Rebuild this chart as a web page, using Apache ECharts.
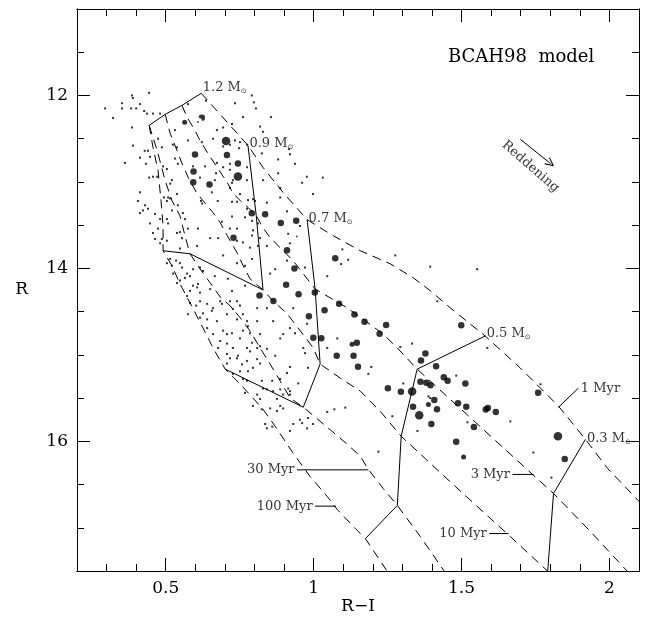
<!DOCTYPE html>
<html>
<head>
<meta charset="utf-8">
<script src="https://cdn.jsdelivr.net/npm/echarts@6/dist/echarts.min.js"></script>
<style>
  html, body { margin: 0; padding: 0; background: #fff; }
  #chart { width: 651px; height: 624px; }
</style>
</head>
<body>
<div id="chart"></div>
<script>
// Axis ranges and ticks (R-I colour vs. R magnitude, magnitudes increase downward)
const X_MIN = 0.2, X_MAX = 2.1;
const Y_MIN = 11, Y_MAX = 17.5;
const X_MAJOR = [0.5, 1, 1.5, 2];
const Y_MAJOR = [12, 14, 16];

// BCAH98 isochrones, [R-I, R]
const ISO_1MYR = [[0.620,11.975],[0.778,12.578],[0.829,12.833],[0.897,13.123],[0.978,13.436],[1.066,13.622],[1.158,13.796],[1.259,13.947],[1.337,14.109],[1.395,14.260],[1.462,14.457],[1.580,14.782],[1.699,15.153],[1.828,15.594],[1.919,15.977],[1.994,16.314],[2.110,16.730]];
const ISO_3MYR = [[0.555,12.114],[0.572,12.253],[0.593,12.369],[0.616,12.520],[0.643,12.671],[0.674,12.833],[0.708,13.007],[0.728,13.135],[0.752,13.216],[0.779,13.297],[0.806,13.390],[0.829,13.529],[0.853,13.645],[0.887,13.761],[0.931,13.912],[0.965,14.063],[1.005,14.237],[1.056,14.341],[1.114,14.457],[1.175,14.608],[1.235,14.759],[1.283,14.921],[1.350,15.165],[1.547,15.780],[1.740,16.383],[1.811,16.603],[1.936,17.044],[2.065,17.520]];
const ISO_10MYR = [[0.498,12.218],[0.515,12.439],[0.538,12.636],[0.555,12.787],[0.576,12.949],[0.606,13.135],[0.640,13.274],[0.660,13.355],[0.684,13.471],[0.708,13.622],[0.741,13.819],[0.762,13.970],[0.785,14.121],[0.829,14.249],[0.863,14.376],[0.911,14.527],[0.955,14.724],[0.999,14.921],[1.022,15.107],[1.090,15.269],[1.158,15.420],[1.225,15.652],[1.296,15.942],[1.479,16.522],[1.665,17.102],[1.797,17.520]];
const ISO_30MYR = [[0.444,12.346],[0.471,12.636],[0.498,12.984],[0.521,13.216],[0.548,13.390],[0.565,13.622],[0.582,13.831],[0.616,14.005],[0.650,14.167],[0.684,14.330],[0.718,14.434],[0.752,14.573],[0.785,14.724],[0.819,14.921],[0.853,15.107],[0.887,15.304],[0.921,15.501],[0.965,15.606],[1.022,15.768],[1.114,16.035],[1.158,16.174],[1.185,16.325],[1.235,16.545],[1.283,16.742],[1.361,17.102],[1.445,17.520]];
const ISO_100MYR = [[0.444,12.346],[0.457,12.601],[0.474,12.868],[0.484,13.216],[0.491,13.506],[0.491,13.796],[0.521,13.970],[0.548,14.179],[0.582,14.399],[0.626,14.689],[0.660,14.921],[0.701,15.165],[0.752,15.339],[0.826,15.617],[0.870,15.826],[0.931,16.139],[0.988,16.406],[1.046,16.638],[1.080,16.789],[1.141,17.009],[1.175,17.125],[1.252,17.520]];

// Evolutionary tracks through the isochrone points
const TRACK_1_2 = [[0.620,11.975],[0.555,12.114],[0.498,12.218],[0.444,12.346]];
const TRACK_0_9 = [[0.778,12.578],[0.806,13.390],[0.829,14.249],[0.582,13.831],[0.491,13.796]];
const TRACK_0_7 = [[0.978,13.436],[1.005,14.237],[1.022,15.107],[0.965,15.606],[0.701,15.165]];
const TRACK_0_5 = [[1.580,14.782],[1.350,15.165],[1.296,15.942],[1.283,16.742],[1.175,17.125]];
const TRACK_0_3 = [[1.919,15.977],[1.811,16.603],[1.791,17.520]];

const MASS_NAMES = ['1.2', '0.9', '0.7', '0.5', '0.3'];
const MASS_ANCHORS = [[0.620,11.975],[0.778,12.578],[0.978,13.436],[1.580,14.782],[1.919,15.977]];

const AGE_NAMES = ['1 Myr', '3 Myr', '10 Myr', '30 Myr', '100 Myr'];
const AGE_LEADERS = [
  [[1.895,15.385],[1.828,15.606]],
  [[1.672,16.383],[1.743,16.383]],
  [[1.594,17.067],[1.659,17.067]],
  [[0.944,16.330],[1.185,16.330]],
  [[1.005,16.750],[1.075,16.750]]
];

// Reddening vector
const REDDENING = [[1.699,12.508],[1.801,12.787]];
const REDDENING_TEXT_AT = [1.733,12.822];

// Field stars
const FIELD_STARS = [
[0.444,11.97],[0.386,12.00],[0.389,12.03],[0.352,12.09],[0.352,12.15],[0.295,12.15],[0.383,12.15],[0.400,12.15],[0.427,12.18],[0.457,12.21],[0.481,12.21],[0.437,12.21],[0.322,12.26],[0.386,12.37],[0.413,12.10],[0.575,12.10],[0.636,12.06],[0.734,12.09],[0.791,12.00],[0.798,12.08],[0.805,12.15],[0.761,12.25],[0.856,12.25],[0.819,12.36],[0.829,12.42],[0.694,12.37],[0.724,12.33],[0.660,12.50],[0.694,12.59],[0.734,12.52],[0.751,12.54],[0.775,12.57],[0.673,12.40],[0.531,12.40],[0.575,12.52],[0.622,12.54],[0.717,12.57],[0.748,12.61],[0.389,12.58],[0.429,12.64],[0.440,12.64],[0.413,12.72],[0.433,12.79],[0.362,12.78],[0.474,12.50],[0.524,12.57],[0.538,12.60],[0.487,12.60],[0.447,12.71],[0.531,12.73],[0.491,12.82],[0.504,12.85],[0.541,12.79],[0.592,12.82],[0.633,12.82],[0.673,12.78],[0.670,12.90],[0.694,12.83],[0.717,12.86],[0.727,12.98],[0.717,13.07],[0.775,12.98],[0.795,13.20],[0.778,13.21],[0.829,12.98],[0.880,12.74],[0.880,12.90],[0.920,12.68],[0.937,12.79],[0.961,13.01],[0.977,12.94],[1.031,12.95],[0.998,13.14],[0.825,12.67],[0.917,12.62],[0.521,12.98],[0.515,13.02],[0.457,12.94],[0.444,12.95],[0.471,12.94],[0.538,13.14],[0.494,13.18],[0.508,13.18],[0.656,13.12],[0.751,13.14],[0.616,12.95],[0.666,12.98],[0.724,13.01],[0.717,12.79],[0.775,12.83],[0.413,13.12],[0.619,13.22],[0.676,13.22],[0.724,13.23],[0.741,13.23],[0.802,13.22],[0.887,13.07],[0.842,13.24],[0.887,13.18],[0.910,13.34],
[0.406,13.22],[0.423,13.33],[0.440,13.31],[0.413,13.36],[0.464,13.37],[0.504,13.22],[0.515,13.19],[0.541,13.27],[0.558,13.36],[0.504,13.43],[0.508,13.48],[0.481,13.43],[0.457,13.59],[0.474,13.54],[0.487,13.66],[0.504,13.68],[0.447,13.48],[0.538,13.59],[0.565,13.43],[0.575,13.54],[0.609,13.54],[0.623,13.25],[0.690,13.46],[0.724,13.40],[0.650,13.65],[0.677,13.65],[0.717,13.54],[0.741,13.54],[0.768,13.41],[0.775,13.31],[0.792,13.62],[0.761,13.70],[0.741,13.68],[0.606,13.74],[0.694,13.85],[0.741,13.94],[0.768,13.97],[0.792,13.89],[0.785,13.76],[0.548,13.77],[0.515,13.89],[0.504,13.94],[0.548,13.94],[0.521,13.97],[0.555,13.99],[0.592,14.01],[0.616,13.99],[0.626,14.03],[0.565,14.11],[0.582,14.09],[0.538,14.17],[0.592,14.20],[0.609,14.18],[0.666,14.09],[0.710,14.12],[0.724,14.26],[0.768,14.20],[0.650,14.24],[0.572,14.32],[0.616,14.28],[0.548,13.58],[0.555,13.65],[0.521,13.33],[0.430,13.27],[0.464,13.66],[0.481,13.71],[0.792,13.45],[0.812,13.48],[0.795,13.56],[0.819,13.65],[0.812,13.74],[0.842,13.74],[0.920,13.71],[0.954,13.51],[0.914,13.60],[0.971,13.99],[0.870,14.01],[0.853,14.06],[1.046,14.09],[1.097,13.78],[1.117,13.90],[1.093,13.95],[0.910,13.91],[1.276,13.85],[1.394,13.98],[1.553,14.01],[0.535,13.91],[0.525,14.06],[0.572,14.06],[0.548,14.14],[0.606,14.22],[0.582,14.26],
[0.616,14.38],[0.640,14.41],[0.660,14.46],[0.684,14.38],[0.717,14.38],[0.727,14.47],[0.673,14.61],[0.616,14.57],[0.640,14.69],[0.660,14.76],[0.707,14.76],[0.684,14.84],[0.751,14.81],[0.727,14.92],[0.775,14.92],[0.707,14.99],[0.741,15.04],[0.775,15.07],[0.795,15.15],[0.809,14.92],[0.819,14.76],[0.809,14.61],[0.775,14.61],[0.761,14.53],[0.863,14.61],[0.842,14.46],[0.887,14.81],[0.920,14.69],[0.931,14.46],[0.965,14.92],[0.978,14.64],[0.829,15.39],[0.863,15.42],[0.920,15.46],[0.775,15.30],[0.727,15.22],[0.809,15.46],[0.656,14.49],[0.690,14.41],[0.751,14.43],[0.640,14.59],[0.707,14.53],[0.741,14.59],[0.694,14.72],[0.724,14.75],[0.761,14.72],[0.785,14.75],[0.778,14.67],[0.707,14.87],[0.677,14.92],[0.744,15.01],[0.717,15.04],[0.792,14.86],[0.819,14.90],[0.785,14.96],[0.809,15.05],[0.842,14.93],[0.870,15.01],[0.707,15.10],[0.758,15.11],[0.819,15.10],[0.751,15.19],[0.778,15.19],[0.761,15.28],[0.825,15.30],[0.860,15.30],[0.887,15.28],[0.910,15.21],[0.920,15.14],[0.887,15.40],[0.948,15.33],[0.897,14.76],[0.937,14.75],[0.971,14.98],[0.981,15.15],[1.080,14.81],[1.046,14.92],[0.582,14.40],[0.603,14.43],[0.575,14.53],[0.626,14.52],[0.741,14.38],[0.809,14.46],
[0.768,15.44],[0.819,15.51],[0.795,15.59],[0.825,15.63],[0.853,15.62],[0.876,15.51],[0.887,15.59],[0.920,15.42],[0.836,15.80],[0.842,15.85],[0.860,15.83],[0.920,15.88],[0.954,15.75],[0.961,15.79],[0.981,15.73],[0.978,15.85],[0.998,15.80],[1.046,15.66],[1.070,15.63],[1.107,15.61],[0.876,15.65],[0.897,15.46],[0.914,15.39],[0.842,15.40],[0.897,15.62],[0.931,15.80],
[1.418,14.38],[1.293,14.91],[1.333,14.87],[1.587,14.92],[1.195,15.14],[1.185,15.22],[1.303,15.33],[1.482,15.24],[1.388,15.48],[1.266,15.71],[1.351,15.88],[1.520,15.78],[1.767,15.34],[1.665,15.77],[1.743,16.13],[1.804,16.42],[1.219,16.12],[1.394,15.50]
];

// Cluster candidates
const MEMBERS = [
[0.622,12.259],[0.599,12.682],[0.707,12.688],[0.744,12.787],[0.594,12.879],[0.593,13.004],[0.648,13.030],[0.791,13.361],[0.836,13.375],[0.889,13.475],[0.941,13.448],[0.729,13.645],[0.910,13.790],[0.935,14.002],[0.907,14.190],[0.949,14.298],[1.004,14.280],[0.817,14.314],[0.864,14.376],[1.073,13.883],[1.086,14.408],[1.037,14.484],[0.984,14.553],[1.138,14.533],[0.999,14.802],[1.026,14.809],[1.146,14.861],[1.078,15.010],[1.135,15.010],[1.150,15.138],[1.172,14.616],[1.245,14.654],[1.223,14.755],[1.499,14.658],[1.378,14.983],[1.363,15.066],[1.414,15.133],[1.440,15.258],[1.453,15.300],[1.513,15.331],[1.361,15.312],[1.381,15.324],[1.395,15.353],[1.251,15.387],[1.295,15.426],[1.336,15.600],[1.408,15.521],[1.417,15.629],[1.488,15.559],[1.516,15.600],[1.582,15.632],[1.589,15.614],[1.616,15.661],[1.398,15.799],[1.542,15.834],[1.482,16.004],[1.759,15.437],[1.849,16.205]
];
const STRONG_MEMBERS = [[0.704,12.526],[0.744,12.937],[1.333,15.423],[1.357,15.698],[1.826,15.942]];
const WEAK_MEMBERS = [[0.564,12.311],[1.130,14.878],[1.388,15.574],[1.507,16.182]];
const SPECIAL_STARS = [[0.609,12.307],[0.943,13.630]];

const FONT = 'DejaVu Serif';
const INK = '#000';

function xAxisDef(position, major) {
  return {
    type: 'value', position, min: X_MIN, max: X_MAX,
    interval: major ? undefined : 0.1,
    axisLine: { show: true, onZero: false, lineStyle: { color: INK, width: 1 } },
    axisTick: major
      ? { show: true, inside: true, length: 13, customValues: X_MAJOR, lineStyle: { color: INK, width: 1 } }
      : { show: true, inside: true, length: 7, lineStyle: { color: INK, width: 1 } },
    axisLabel: (major && position === 'bottom')
      ? { show: true, customValues: X_MAJOR, color: INK, fontFamily: FONT, fontSize: 17, margin: 9 }
      : { show: false },
    splitLine: { show: false },
    name: (major && position === 'bottom') ? 'R\u2212I' : '',
    nameLocation: 'middle', nameGap: 27, nameMoveOverlap: false,
    nameTextStyle: { color: INK, fontFamily: FONT, fontSize: 17 }
  };
}
function yAxisDef(position, major) {
  return {
    type: 'value', position, min: Y_MIN, max: Y_MAX, inverse: true,
    interval: major ? undefined : 0.5,
    axisLine: { show: true, onZero: false, lineStyle: { color: INK, width: 1 } },
    axisTick: major
      ? { show: true, inside: true, length: 13, customValues: Y_MAJOR, lineStyle: { color: INK, width: 1 } }
      : { show: true, inside: true, length: 7, lineStyle: { color: INK, width: 1 } },
    axisLabel: (major && position === 'left')
      ? { show: true, customValues: Y_MAJOR, color: INK, fontFamily: FONT, fontSize: 17, margin: 9 }
      : { show: false },
    splitLine: { show: false },
    name: (major && position === 'left') ? 'R' : '',
    nameLocation: 'middle', nameGap: 49, nameRotate: 0, nameMoveOverlap: false,
    nameTextStyle: { color: INK, fontFamily: FONT, fontSize: 17 }
  };
}

function isochrone(data) {
  return { type: 'line', data, symbol: 'none', silent: true, z: 2,
    lineStyle: { color: INK, width: 1, type: [9, 6] } };
}
function solid(data) {
  return { type: 'line', data, symbol: 'none', silent: true, z: 3,
    lineStyle: { color: INK, width: 1 } };
}

const series = [];
[ISO_1MYR, ISO_3MYR, ISO_10MYR, ISO_30MYR, ISO_100MYR].forEach(d => series.push(isochrone(d)));
[TRACK_1_2, TRACK_0_9, TRACK_0_7, TRACK_0_5, TRACK_0_3].forEach(d => series.push(solid(d)));
AGE_LEADERS.forEach(d => series.push(solid(d)));

series.push({ type: 'scatter', data: FIELD_STARS, symbol: 'rect', symbolSize: 2, z: 4, silent: true,
  itemStyle: { color: INK } });
series.push({ type: 'scatter', data: MEMBERS, symbol: 'circle', symbolSize: 6.5, z: 5, silent: true,
  itemStyle: { color: INK } });
series.push({ type: 'scatter', data: STRONG_MEMBERS, symbol: 'circle', symbolSize: 8.5, z: 5, silent: true,
  itemStyle: { color: INK } });
series.push({ type: 'scatter', data: WEAK_MEMBERS, symbol: 'circle', symbolSize: 5, z: 5, silent: true,
  itemStyle: { color: INK } });
series.push({ type: 'scatter', data: SPECIAL_STARS, symbol: 'emptyCircle', symbolSize: 7, z: 5, silent: true,
  itemStyle: { color: '#fff', borderColor: INK, borderWidth: 0.9 } });
series.push({ type: 'scatter', data: SPECIAL_STARS, symbol: 'circle', symbolSize: 1.8, z: 6, silent: true,
  itemStyle: { color: INK } });

// Mass labels at the 1 Myr end of each track
const massOffsets = [[0, -6], [0, -2], [0, -1], [0, -2], [0, -1]];
series.push({
  type: 'scatter', symbolSize: 1, z: 7, silent: true, itemStyle: { color: 'rgba(0,0,0,0)' },
  data: MASS_ANCHORS.map((v, i) => ({ value: v, name: MASS_NAMES[i], label: { offset: massOffsets[i] } })),
  label: {
    show: true, position: 'right', distance: 1,
    formatter: p => '{n|' + p.name + ' M}{s|\u2299}',
    rich: {
      n: { fontFamily: FONT, fontSize: 13, color: INK },
      s: { fontFamily: 'DejaVu Sans', fontSize: 7, color: INK, padding: [7, 0, 0, 0] }
    }
  }
});

// Age labels at the outer end of each leader
series.push({
  type: 'scatter', symbolSize: 1, z: 7, silent: true, itemStyle: { color: 'rgba(0,0,0,0)' },
  data: AGE_LEADERS.map((seg, i) => ({ value: seg[0], name: AGE_NAMES[i],
    label: { position: i === 0 ? 'right' : 'left' } })),
  label: { show: true, distance: 2, formatter: p => p.name,
    fontFamily: FONT, fontSize: 13, color: INK }
});

// Reddening arrow
series.push({
  type: 'lines', coordinateSystem: 'cartesian2d', z: 7, silent: true,
  symbol: ['none', 'path://M0,12 L6,0 L12,12 L10.4,12 L6,3.2 L1.6,12 Z'], symbolSize: [8, 9],
  lineStyle: { color: INK, width: 1, opacity: 1 },
  data: [{ coords: REDDENING }]
});
series.push({
  type: 'scatter', symbolSize: 1, z: 7, silent: true, itemStyle: { color: 'rgba(0,0,0,0)' },
  data: [{ value: REDDENING_TEXT_AT, name: 'Reddening' }],
  label: { show: true, position: 'inside', rotate: -41, formatter: p => p.name,
    fontFamily: FONT, fontSize: 13, color: INK }
});

const chart = echarts.init(document.getElementById('chart'), null, { renderer: 'canvas' });
chart.setOption({
  animation: false,
  backgroundColor: '#fff',
  title: { text: 'BCAH98  model', left: 443, top: 43,
    textStyle: { fontFamily: FONT, fontSize: 18, fontWeight: 'normal', color: INK } },
  grid: { left: 77, right: 12, top: 9, bottom: 53, containLabel: false },
  xAxis: [xAxisDef('bottom', false), xAxisDef('bottom', true), xAxisDef('top', false), xAxisDef('top', true)],
  yAxis: [yAxisDef('left', false), yAxisDef('left', true), yAxisDef('right', false), yAxisDef('right', true)],
  series
});
</script>
</body>
</html>
